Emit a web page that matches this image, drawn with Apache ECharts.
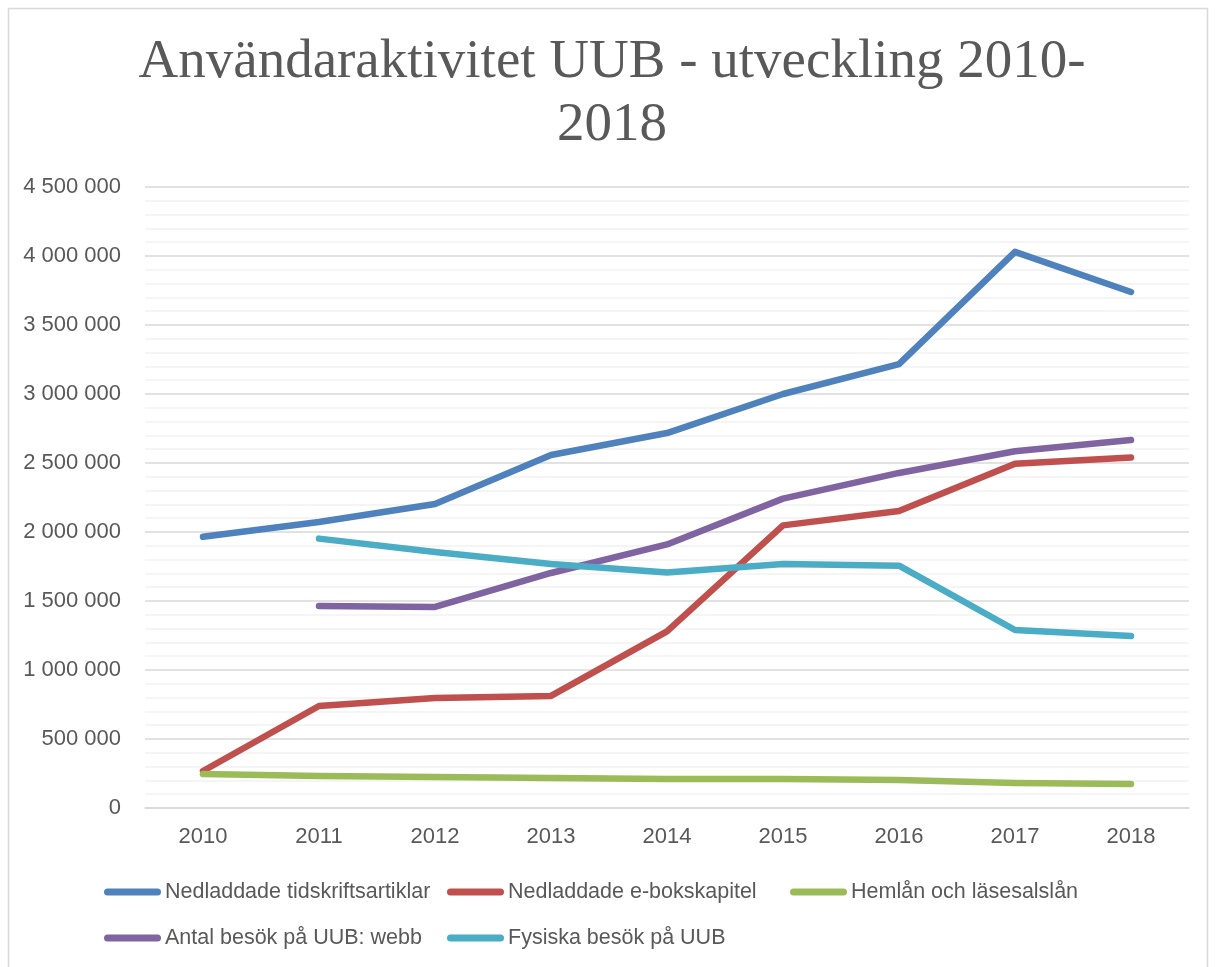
<!DOCTYPE html>
<html>
<head>
<meta charset="utf-8">
<title>Användaraktivitet UUB</title>
<script src="https://cdn.jsdelivr.net/npm/echarts@6/dist/echarts.min.js"></script>
<style>
  html, body { margin: 0; padding: 0; background: #fff; }
  #chart { width: 1216px; height: 967px; }
</style>
</head>
<body>
<div id="chart"></div>
<script>
  // årtal och serier
  var years = ['2010', '2011', '2012', '2013', '2014', '2015', '2016', '2017', '2018'];
  var names = [
    'Nedladdade tidskriftsartiklar',
    'Nedladdade e-bokskapitel',
    'Hemlån och läsesalslån',
    'Antal besök på UUB: webb',
    'Fysiska besök på UUB'
  ];
  var tidskrifter = [1965000, 2072000, 2203000, 2558000, 2717000, 3000000, 3217000, 4030000, 3739000];
  var ebok = [268000, 739000, 797000, 812000, 1280000, 2048000, 2152000, 2495000, 2540000];
  var hemlan = [246000, 232000, 225000, 217000, 210000, 210000, 203000, 181000, 174000];
  var webb = ['-', 1464000, 1457000, 1703000, 1910000, 2242000, 2428000, 2585000, 2667000];
  var fysiska = ['-', 1952000, 1855000, 1768000, 1706000, 1768000, 1756000, 1290000, 1246000];
  var colors = ['#4F81BD', '#C0504D', '#9BBB59', '#8064A2', '#4BACC6'];

  var myChart = echarts.init(document.getElementById('chart'));

  function fmt(v) {
    return String(v).replace(/\B(?=(\d{3})+(?!\d))/g, ' ');
  }

  var capsule = 'path://M3.5,0 L53.5,0 Q57,0 57,3.5 Q57,7 53.5,7 L3.5,7 Q0,7 0,3.5 Q0,0 3.5,0 Z';
  // legenden ligger i kolumner, en legend per post
  var legendPos = [[104, 881], [447, 881], [790, 881], [104, 927], [447, 927]];
  var legends = names.map(function (n, i) {
    return {
      data: [n],
      left: legendPos[i][0],
      top: legendPos[i][1],
      padding: 0,
      icon: capsule,
      itemWidth: 57,
      itemHeight: 7,
      itemGap: 0,
      selectedMode: false,
      textStyle: { fontFamily: 'Liberation Sans', fontSize: 21.5, color: '#595959', padding: [0, 0, 0, -1] }
    };
  });

  function line(name, data, i) {
    return {
      name: name,
      type: 'line',
      data: data,
      showSymbol: false,
      symbol: 'none',
      smooth: false,
      silent: true,
      color: colors[i],
      lineStyle: { width: 6.5, color: colors[i], cap: 'round', join: 'round' }
    };
  }

  myChart.setOption({
    animation: false,
    backgroundColor: '#fff',
    title: {
      text: 'Användaraktivitet UUB - utveckling 2010-\n2018',
      left: 612,
      top: 31,
      padding: 0,
      textAlign: 'center',
      textStyle: {
        fontFamily: 'Liberation Serif',
        fontSize: 55,
        fontWeight: 'normal',
        lineHeight: 63,
        color: '#595959'
      }
    },
    graphic: [{
      type: 'rect',
      shape: { x: 8.5, y: 8.5, width: 1199, height: 1000 },
      style: { fill: 'none', stroke: '#d9d9d9', lineWidth: 1.5 },
      silent: true
    }],
    legend: legends,
    grid: { left: 145, right: 27, top: 187, bottom: 159 },
    xAxis: {
      type: 'category',
      data: years,
      boundaryGap: true,
      axisTick: { show: false },
      axisLine: { lineStyle: { color: '#d9d9d9', width: 1.5 } },
      axisLabel: { fontFamily: 'Liberation Sans', fontSize: 22, color: '#595959', margin: 18 }
    },
    yAxis: {
      type: 'value',
      min: 0,
      max: 4500000,
      interval: 500000,
      axisLine: { show: false },
      axisTick: { show: false },
      axisLabel: {
        fontFamily: 'Liberation Sans',
        fontSize: 22,
        color: '#595959',
        margin: 24,
        formatter: fmt
      },
      splitLine: { lineStyle: { color: '#d9d9d9', width: 1.5 } },
      minorTick: { show: false, splitNumber: 5 },
      minorSplitLine: { show: true, lineStyle: { color: '#f2f2f2', width: 1.5 } }
    },
    series: [
      line(names[0], tidskrifter, 0),
      line(names[1], ebok, 1),
      line(names[2], hemlan, 2),
      line(names[3], webb, 3),
      line(names[4], fysiska, 4)
    ]
  });
</script>
</body>
</html>
